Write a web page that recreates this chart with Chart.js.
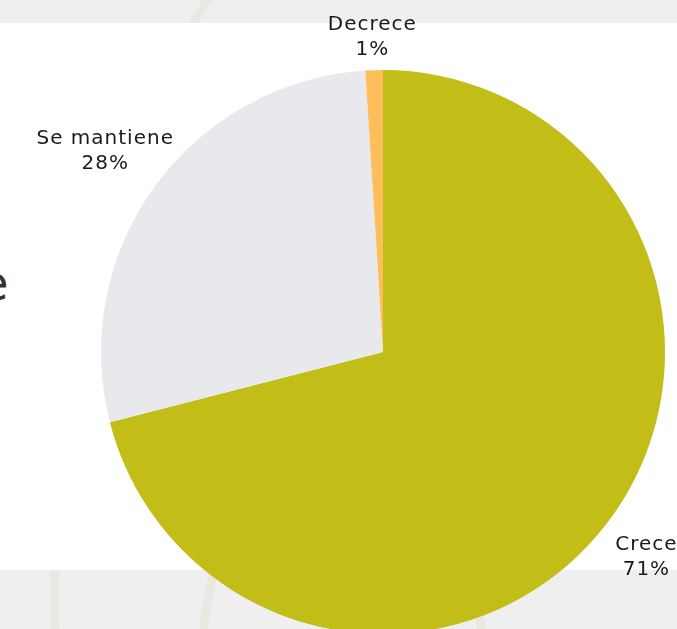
<!DOCTYPE html>
<html lang="es">
<head>
<meta charset="utf-8">
<title>Tendencia</title>
<script src="https://cdn.jsdelivr.net/npm/chart.js@4"></script>
<style>
    html, body {
        margin: 0;
        padding: 0;
        width: 677px;
        height: 629px;
        overflow: hidden;
        background: #efefef;
    }
    .ring {
        position: absolute;
        border: 9px solid rgba(226, 223, 206, 0.4);
        border-radius: 50%;
        box-sizing: border-box;
    }
    .panel {
        position: absolute;
        left: 0;
        top: 23px;
        width: 677px;
        height: 547px;
        background: #ffffff;
    }
    .heading {
        position: absolute;
        left: -21px;
        top: 259px;
        font-family: "DejaVu Sans", sans-serif;
        font-size: 48px;
        line-height: 48px;
        color: #333333;
    }
    .chart-box {
        position: absolute;
        left: 0;
        top: 0;
        width: 677px;
        height: 640px;
    }
</style>
</head>
<body>
<div class="ring" style="left:50px; top:-200px; width:900px; height:1600px;"></div>
<div class="ring" style="left:195px; top:400px; width:295px; height:600px;"></div>
<div class="panel"></div>
<div class="heading">e</div>
<div class="chart-box"><canvas id="chartTrend"></canvas></div>
<script>
    const categories = ['Crece', 'Se mantiene', 'Decrece'];
    const shares = [71, 28, 1];
    const sliceColors = ['#c3bd18', '#e8e9ed', '#fdbe5b'];

    // Two-line labels (name + percentage) placed outside each slice.
    const outsideLabels = {
        id: 'outsideLabels',
        afterDatasetsDraw(chart) {
            const ctx = chart.ctx;
            const meta = chart.getDatasetMeta(0);
            ctx.save();
            ctx.font = '20px "DejaVu Sans", sans-serif';
            ctx.letterSpacing = '1px';
            ctx.fillStyle = '#1a1a1a';
            ctx.textAlign = 'center';
            ctx.textBaseline = 'alphabetic';
            meta.data.forEach((arc, index) => {
                const props = arc.getProps(['x', 'y', 'startAngle', 'endAngle', 'outerRadius'], true);
                const mid = (props.startAngle + props.endAngle) / 2;
                const dist = props.outerRadius * 1.2;
                let cx = props.x + Math.cos(mid) * dist - 4;
                let cy = props.y + Math.sin(mid) * dist - 4;
                // keep the label block below the top edge of the panel
                if (cy < 35) {
                    cy = 35;
                    cx += 4;
                }
                const value = chart.data.datasets[0].data[index];
                ctx.fillText(chart.data.labels[index], cx, cy - 5);
                ctx.fillText(value + '%', cx, cy + 20);
            });
            ctx.restore();
        }
    };

    document.addEventListener('DOMContentLoaded', () => {
        const ctx = document.getElementById('chartTrend');
        new Chart(ctx, {
            type: 'pie',
            data: {
                labels: categories,
                datasets: [{
                    data: shares,
                    backgroundColor: sliceColors,
                    borderWidth: 0
                }]
            },
            options: {
                responsive: true,
                maintainAspectRatio: false,
                animation: false,
                layout: {
                    padding: { left: 101, right: 12, top: 70, bottom: 6 }
                },
                plugins: {
                    legend: { display: false },
                    tooltip: { enabled: false }
                }
            },
            plugins: [outsideLabels]
        });
    });
</script>
</body>
</html>
